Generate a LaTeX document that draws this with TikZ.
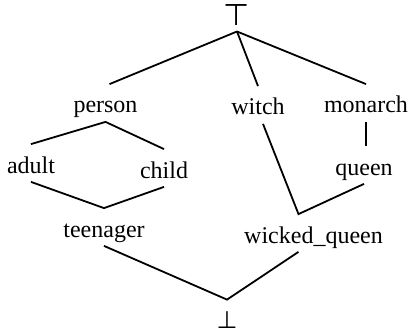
\documentclass[tikz,border=0pt]{standalone}
\usepackage{fontspec}
\setmainfont{Liberation Serif}
\newfontfamily\symfont{DejaVu Sans}
\usepackage{tikz}

\begin{document}
\begin{tikzpicture}[x=1pt,y=-1pt,line width=1.8pt,
  sort/.style={inner sep=0pt,text height=28pt,text depth=8pt,anchor=base,font=\fontsize{24}{28}\selectfont},
  lim/.style={inner sep=0pt,font=\symfont\fontsize{30}{30}\selectfont}]
\useasboundingbox (0,0) rectangle (412,334);
\node[lim,outer sep=6pt] (top) at (237,15) {⊤};
\node[lim,outer sep=12pt,font=\symfont\fontsize{24}{24}\selectfont] (bot) at (227,320) {⊥};
\node[sort] (person) at (105.5,113) {person};
\node[sort] (witch) at (258,115) {witch};
\node[sort] (monarch) at (366,113) {monarch};
\node[sort] (adult) at (31,173) {adult};
\node[sort] (child) at (164,178) {child};
\node[sort] (queen) at (364,175) {queen};
\node[sort] (teenager) at (104,237) {teenager};
\node[sort] (wqueen) at (313.5,243) {wicked\_queen};
\draw (top.south) -- ([xshift=4pt]person.north);
\draw (top.south) -- (witch.north);
\draw (top.south) -- (monarch.north);
\draw (adult.north) -- (person.south) -- (child.north);
\draw (adult.south) -- (teenager.north) -- (child.south);
\draw (monarch.south) -- (monarch.south |- queen.north);
\draw ([xshift=5pt]witch.south) -- ([xshift=-15pt]wqueen.north) -- (queen.south);
\draw (teenager.south) -- (bot.north) -- ([xshift=-15pt]wqueen.south);
\end{tikzpicture}
\end{document}
